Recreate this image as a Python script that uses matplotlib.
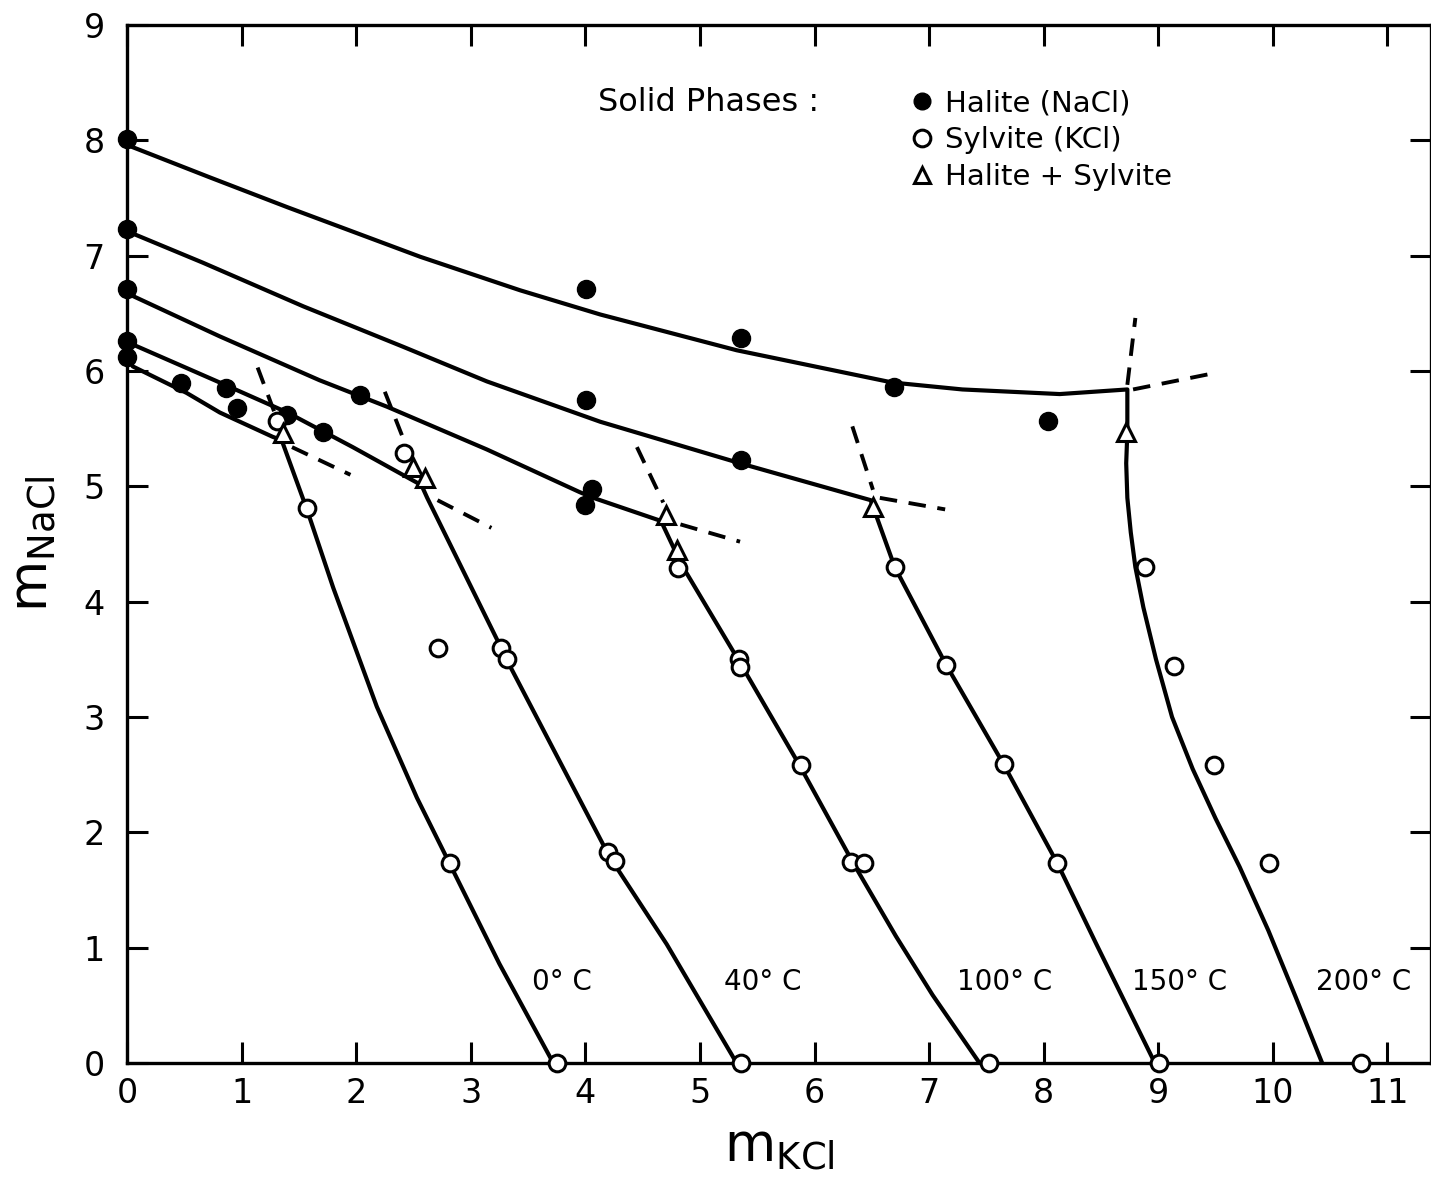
import matplotlib
matplotlib.use('Agg')
import matplotlib.pyplot as plt

# measured points (m KCl, m NaCl)
halite_x = [0, 0, 0, 0, 0, 0.47, 0.86, 0.96, 1.40, 1.71, 2.03, 4.01, 4.01, 4.06, 4.00, 5.36, 5.36, 6.69, 8.04]
halite_y = [8.01, 7.23, 6.71, 6.26, 6.12, 5.90, 5.85, 5.68, 5.62, 5.47, 5.79, 6.71, 5.75, 4.98, 4.84, 6.29, 5.23, 5.86, 5.57]

sylvite_x = [1.31, 1.57, 2.71, 2.82, 3.75, 2.42, 3.26, 3.32, 4.20, 4.26, 5.36, 4.81, 5.34, 5.35, 5.88,
             6.32, 6.43, 7.52, 6.70, 7.15, 7.65, 8.12, 9.01, 8.88, 9.14, 9.49, 9.97, 10.77]
sylvite_y = [5.57, 4.81, 3.60, 1.73, 0, 5.29, 3.60, 3.50, 1.83, 1.75, 0, 4.29, 3.50, 3.43, 2.58,
             1.74, 1.73, 0, 4.30, 3.45, 2.59, 1.73, 0, 4.30, 3.44, 2.58, 1.73, 0]

both_x = [1.36, 2.50, 2.60, 4.70, 4.80, 6.51, 8.72]
both_y = [5.46, 5.17, 5.07, 4.75, 4.45, 4.82, 5.47]

# solubility curves, one per temperature
temps = ['0° C', '40° C', '100° C', '150° C', '200° C']
label_x = [3.80, 5.55, 7.66, 9.19, 10.79]

curve_x = {
    '0° C': [0, 0.05, 0.52, 0.81, 1.27, 1.35, 1.57, 1.80, 2.18, 2.53, 2.82, 3.25, 3.72],
    '40° C': [0, 0.05, 0.81, 1.40, 1.97, 2.57, 2.62, 3.23, 3.28, 4.21, 4.71, 5.32],
    '100° C': [0, 0.03, 0.81, 1.68, 2.27, 3.14, 3.95, 4.07, 4.66, 4.84, 5.35, 5.87, 6.34,
               6.71, 7.03, 7.44],
    '150° C': [0, 0.03, 0.66, 1.54, 2.41, 3.14, 4.13, 5.35, 6.49, 6.70, 7.15, 7.65, 8.12,
               8.46, 8.97],
    '200° C': [0, 0.72, 1.40, 2.56, 3.43, 4.13, 5.32, 6.68, 7.29, 8.14, 8.73, 8.73, 8.72, 8.73,
               8.76, 8.80, 8.87, 8.98, 9.12, 9.30, 9.50, 9.71, 9.96, 10.20, 10.43],
}
curve_y = {
    '0° C': [6.12, 6.04, 5.81, 5.64, 5.43, 5.40, 4.80, 4.12, 3.09, 2.30, 1.72, 0.86, 0],
    '40° C': [6.26, 6.23, 5.90, 5.64, 5.34, 5.01, 4.90, 3.67, 3.56, 1.79, 1.03, 0],
    '100° C': [6.71, 6.66, 6.30, 5.92, 5.69, 5.32, 4.95, 4.90, 4.70, 4.32, 3.47, 2.58, 1.73,
               1.10, 0.59, 0],
    '150° C': [7.23, 7.20, 6.94, 6.56, 6.21, 5.91, 5.56, 5.20, 4.88, 4.30, 3.45, 2.59, 1.73,
               1.03, 0],
    '200° C': [7.96, 7.68, 7.42, 6.99, 6.70, 6.49, 6.18, 5.90, 5.84, 5.80, 5.84, 5.47, 5.20, 4.90,
               4.60, 4.30, 3.95, 3.50, 3.00, 2.55, 2.12, 1.70, 1.15, 0.57, 0],
}

# metastable extensions (dashed) near each invariant point
dash_up_x = {'0° C': [1.14, 1.31], '40° C': [2.25, 2.44], '100° C': [4.45, 4.68],
             '150° C': [6.33, 6.51], '200° C': [8.73, 8.80]}
dash_up_y = {'0° C': [6.03, 5.58], '40° C': [5.82, 5.34], '100° C': [5.34, 4.86],
             '150° C': [5.52, 4.97], '200° C': [5.88, 6.46]}
dash_rt_x = {'0° C': [1.44, 1.95], '40° C': [2.71, 3.18], '100° C': [4.83, 5.35],
             '150° C': [6.57, 7.14], '200° C': [8.78, 9.43]}
dash_rt_y = {'0° C': [5.34, 5.10], '40° C': [4.88, 4.64], '100° C': [4.67, 4.52],
             '150° C': [4.90, 4.80], '200° C': [5.84, 5.97]}

plt.rcParams['font.family'] = 'DejaVu Sans'
plt.rcParams['mathtext.fontset'] = 'dejavusans'

fig = plt.figure(figsize=(14.31, 11.80), dpi=100)
ax = fig.add_axes([127 / 1431, 117 / 1180, 1304 / 1431, 1038 / 1180])

for t in temps:
    ax.plot(curve_x[t], curve_y[t], color='black', lw=3.0, solid_joinstyle='round', zorder=2)
    ax.plot(dash_up_x[t], dash_up_y[t], color='black', lw=2.8, dashes=(4.5, 3), zorder=2)
    ax.plot(dash_rt_x[t], dash_rt_y[t], color='black', lw=2.8, dashes=(4.5, 3), zorder=2)

h1, = ax.plot(halite_x, halite_y, 'o', ms=13, color='black', ls='none', zorder=4,
              clip_on=False, label='Halite (NaCl)')
h2, = ax.plot(sylvite_x, sylvite_y, 'o', ms=12, mfc='white', mec='black', mew=2.2, ls='none',
              zorder=4, clip_on=False, label='Sylvite (KCl)')
h3, = ax.plot(both_x, both_y, '^', ms=13, mfc='white', mec='black', mew=2.2, ls='none',
              zorder=4, clip_on=False, label='Halite + Sylvite')

for t, lx in zip(temps, label_x):
    ax.text(lx, 0.7, t, fontsize=20, ha='center', va='center')

ax.text(0.361, 0.925, 'Solid Phases :', transform=ax.transAxes, fontsize=23, va='center')
leg = ax.legend(handles=[h1, h2, h3], loc='upper left', bbox_to_anchor=(0.603, 0.938),
                frameon=False, fontsize=21, handlelength=0.6, handletextpad=0.5,
                labelspacing=0.3, borderaxespad=0, borderpad=0)
for hnd in leg.legend_handles:
    hnd.set_markersize(12)

ax.set_xlim(0, 11.38)
ax.set_ylim(0, 9)
ax.set_xticks(range(0, 12))
ax.set_yticks(range(0, 10))
ax.tick_params(direction='in', length=15, width=2.2, labelsize=24, top=True, right=True,
               pad=10)
ax.tick_params(axis='y', pad=16)
for s in ax.spines.values():
    s.set_linewidth(2.4)

ax.set_xlabel(r'$\mathregular{m_{KCl}}$', fontsize=38, labelpad=8)
ax.set_ylabel(r'$\mathregular{m_{NaCl}}$', fontsize=38, labelpad=18)

fig.savefig('out.png', dpi=100)
